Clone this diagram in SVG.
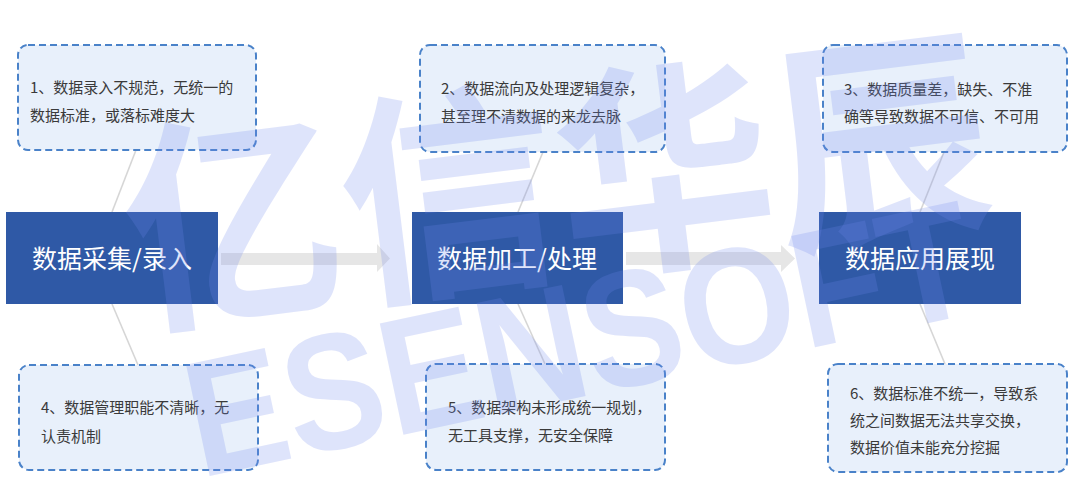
<svg xmlns="http://www.w3.org/2000/svg" width="1080" height="497" viewBox="0 0 1080 497">
<style>
.box{fill:#e8f0fb;stroke:#4a82c9;stroke-width:2;stroke-dasharray:7 4}
.bt{font-family:"Noto Sans CJK SC","Noto Sans",sans-serif;font-size:15px;fill:#3a3a3a}
.node{fill:#2f59a6}
.nt{font-family:"Noto Sans CJK SC","Noto Sans",sans-serif;font-size:25px;fill:#ffffff;text-anchor:middle}
.ln{stroke:#d6d6d6;stroke-width:1.6;fill:none}
.arr{fill:#e6e6e6}
.wm{fill:#6f87ee;opacity:0.22;font-weight:bold}
</style>
<rect width="1080" height="497" fill="#ffffff"/>
<g id="connectors">
<line class="ln" x1="136" y1="150" x2="112" y2="212"/>
<line class="ln" x1="112" y1="304" x2="138" y2="365"/>
<line class="ln" x1="543" y1="152" x2="518" y2="212"/>
<line class="ln" x1="518" y1="304" x2="545" y2="364"/>
<line class="ln" x1="944" y1="152" x2="920" y2="212"/>
<line class="ln" x1="920" y1="304" x2="945" y2="364"/>
<polygon class="arr" points="221,253 377,253 377,244 390,258.5 377,272 377,265 221,265"/>
<polygon class="arr" points="626,252 781,252 781,245 795,258.5 781,272 781,265 626,265"/>
</g>
<g id="box1">
<rect class="box" x="18" y="45" width="238" height="105" rx="10"/>
<text class="bt" x="30" y="93">1、数据录入不规范，无统一的</text>
<text class="bt" x="30" y="121">数据标准，或落标难度大</text>
</g>
<g id="box2">
<rect class="box" x="420" y="45" width="245" height="107" rx="10"/>
<text class="bt" x="441" y="94">2、数据流向及处理逻辑复杂，</text>
<text class="bt" x="441" y="122">甚至理不清数据的来龙去脉</text>
</g>
<g id="box3">
<rect class="box" x="823" y="45" width="244" height="107" rx="10"/>
<text class="bt" x="844" y="95">3、数据质量差，缺失、不准</text>
<text class="bt" x="844" y="122">确等导致数据不可信、不可用</text>
</g>
<g id="box4">
<rect class="box" x="19" y="365" width="239" height="105" rx="10"/>
<text class="bt" x="41" y="413">4、数据管理职能不清晰，无</text>
<text class="bt" x="41" y="442">认责机制</text>
</g>
<g id="box5">
<rect class="box" x="426" y="364" width="239" height="106" rx="10"/>
<text class="bt" x="448" y="413">5、数据架构未形成统一规划，</text>
<text class="bt" x="448" y="441">无工具支撑，无安全保障</text>
</g>
<g id="box6">
<rect class="box" x="828" y="364" width="239" height="108" rx="10"/>
<text class="bt" x="850" y="399">6、数据标准不统一，导致系</text>
<text class="bt" x="850" y="426">统之间数据无法共享交换，</text>
<text class="bt" x="850" y="453">数据价值未能充分挖掘</text>
</g>
<g id="node1">
<rect class="node" x="6" y="212" width="212" height="92"/>
<text class="nt" x="112" y="268">数据采集/录入</text>
</g>
<g id="node2">
<rect class="node" x="412" y="212" width="211" height="92"/>
<text class="nt" x="517" y="268">数据加工/处理</text>
</g>
<g id="node3">
<rect class="node" x="819" y="212" width="202" height="92"/>
<text class="nt" x="920" y="268">数据应用展现</text>
</g>
<g id="watermark">
<text class="wm" font-family="'Noto Sans CJK SC',sans-serif" font-size="225" x="135" y="318" transform="rotate(-7 135 318)" textLength="870" lengthAdjust="spacingAndGlyphs">亿信华辰</text>
<text class="wm" font-family="'Liberation Sans',Arial,sans-serif" font-size="165" x="200" y="478" transform="rotate(-12 200 478)" textLength="800" lengthAdjust="spacingAndGlyphs">ESENSOFT</text>
</g>
</svg>
